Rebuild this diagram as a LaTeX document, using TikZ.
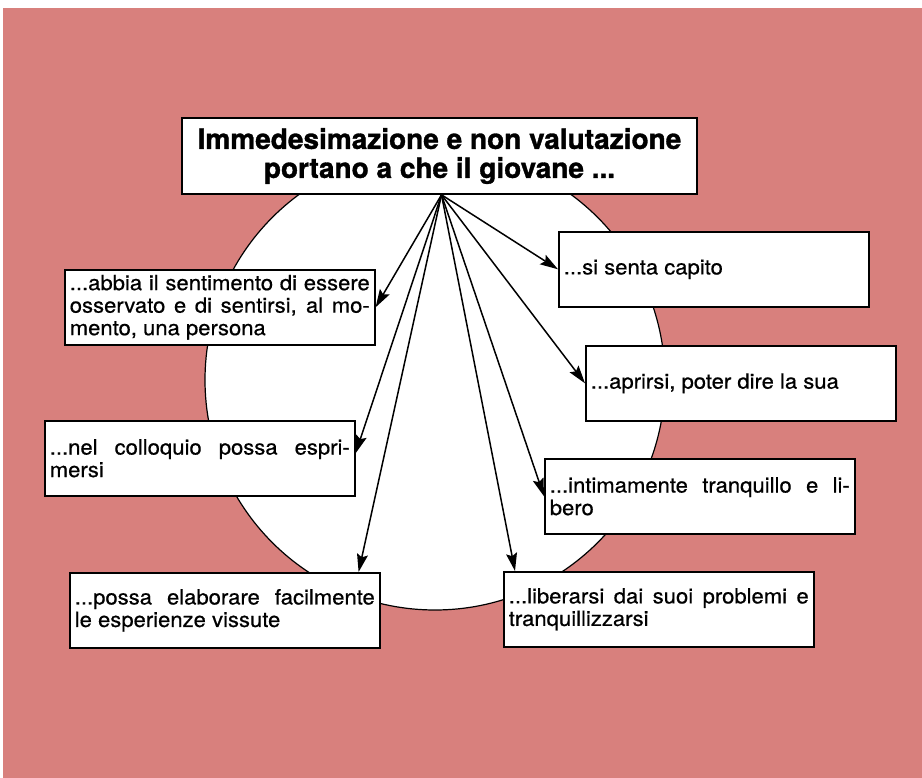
\documentclass[tikz,border=0pt]{standalone}
\usepackage{fontspec}
\setmainfont[FakeBold=0.6, FakeStretch=1.05]{TeX Gyre Heros}
\newfontfamily\titelfont[UprightFont={* Bold}, FakeBold=1.2]{TeX Gyre Heros}
\usepackage{tikz}
\usetikzlibrary{positioning, arrows.meta, calc}

\definecolor{rosa}{RGB}{216,128,125}

\begin{document}
\begin{tikzpicture}[x=1pt, y=-1pt,
        kasten/.style={draw=black, line width=1.6pt, fill=white, anchor=north west,
            text width=300pt, minimum height=75pt, inner xsep=5pt, inner ysep=2pt, align=justify,
            font=\fontsize{21}{22.5}\selectfont,
            execute at begin node={\hyphenpenalty=10000\relax}},
        pfeil/.style={line width=1.5pt, -{Stealth[length=18pt, width=11pt, inset=3pt]}}]
        \useasboundingbox (0,0) rectangle (922,778);

        % background
        \fill[rosa] (3,8) rectangle (922,778);

        % circle
        \draw[black, line width=1.2pt, fill=white] (435,380) circle (230);

        % title
        \node[draw=black, line width=1.6pt, fill=white, minimum width=515pt, minimum height=76pt,
            inner sep=2pt, align=center, font=\fontsize{28}{29}\titelfont]
            (title) at (439.5,156) {Immedesimazione e non valutazione\\portano a che il giovane ...};

        % boxes left
        \node[kasten] (A) at (64,269) {...abbia il sentimento di essere\linebreak osservato e di sentirsi, al mo-\linebreak mento, una persona};
        \node[kasten] (B) at (44,420) {...nel colloquio possa espri-\linebreak mersi};
        \node[kasten] (C) at (69,572) {...possa elaborare facilmente\linebreak le esperienze vissute};

        % boxes right
        \node[kasten] (D) at (558,231) {...si senta capito};
        \node[kasten] (E) at (585,345) {...aprirsi, poter dire la sua};
        \node[kasten] (F) at (544,458) {...intimamente tranquillo e li-\linebreak bero};
        \node[kasten] (G) at (503,571) {...liberarsi dai suoi problemi e\linebreak tranquillizzarsi};

        % arrow ends
        \coordinate (Bin) at ([yshift=5pt]B.east);
        \coordinate (Cin) at ([xshift=-22pt]C.north east);
        \coordinate (Gin) at ([xshift=12pt]G.north west);

        % arrows
        \foreach \ziel in {A.east, Bin, Cin, D.west, E.west, F.west, Gin}
        {
            \draw[pfeil] ([xshift=2pt]title.south) -- (\ziel);
        }
    \end{tikzpicture}
\end{document}
